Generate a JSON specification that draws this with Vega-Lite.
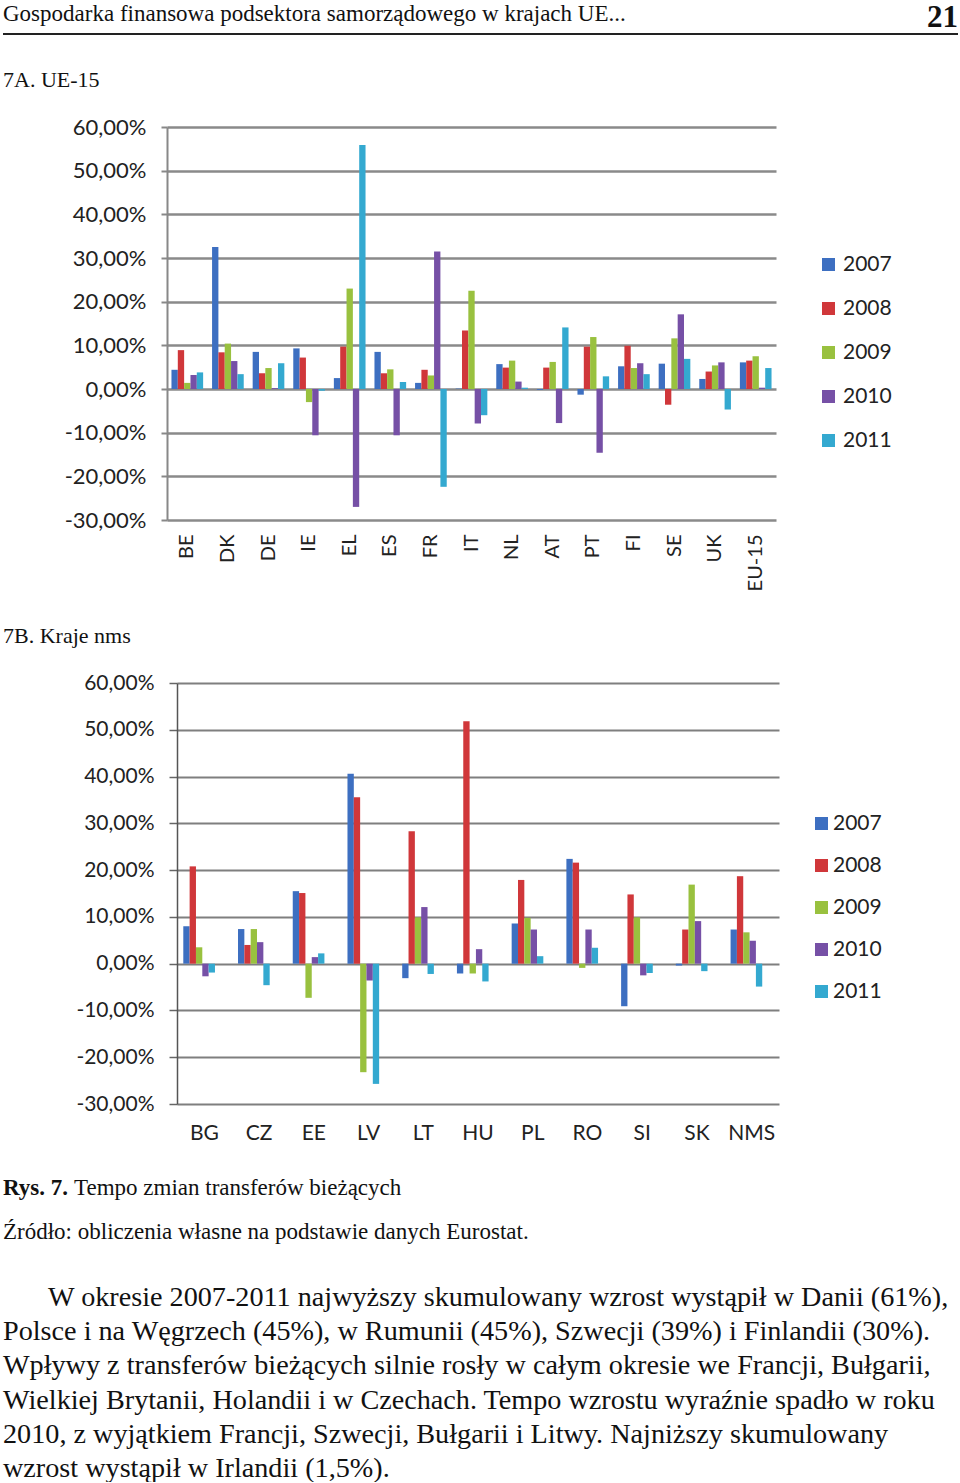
{
  "$schema": "https://vega.github.io/schema/vega-lite/v6.json",
  "background": "white",
  "padding": {"left": 2, "top": 2, "right": 0, "bottom": 0},
  "columns": 1,
  "spacing": 34,
  "resolve": {"scale": {"color": "independent"}, "legend": {"color": "independent"}},
  "config": {
    "view": {"stroke": null},
    "axis": {"labelFont": "Lato", "labelColor": "#222"},
    "legend": {"labelFont": "Lato", "labelColor": "#222", "labelFontSize": 21, "symbolType": "square", "symbolSize": 169, "symbolStrokeWidth": 0}
  },
  "datasets": {
    "ue15": [
      {"country": "BE", "year": "2007", "value": 4.4}, {"country": "BE", "year": "2008", "value": 8.9}, {"country": "BE", "year": "2009", "value": 1.4}, {"country": "BE", "year": "2010", "value": 3.2}, {"country": "BE", "year": "2011", "value": 3.8},
      {"country": "DK", "year": "2007", "value": 32.5}, {"country": "DK", "year": "2008", "value": 8.4}, {"country": "DK", "year": "2009", "value": 10.4}, {"country": "DK", "year": "2010", "value": 6.4}, {"country": "DK", "year": "2011", "value": 3.4},
      {"country": "DE", "year": "2007", "value": 8.5}, {"country": "DE", "year": "2008", "value": 3.6}, {"country": "DE", "year": "2009", "value": 4.8}, {"country": "DE", "year": "2010", "value": 0.2}, {"country": "DE", "year": "2011", "value": 5.9},
      {"country": "IE", "year": "2007", "value": 9.3}, {"country": "IE", "year": "2008", "value": 7.2}, {"country": "IE", "year": "2009", "value": -3.0}, {"country": "IE", "year": "2010", "value": -10.6}, {"country": "IE", "year": "2011", "value": -0.4},
      {"country": "EL", "year": "2007", "value": 2.5}, {"country": "EL", "year": "2008", "value": 9.7}, {"country": "EL", "year": "2009", "value": 23.0}, {"country": "EL", "year": "2010", "value": -27.0}, {"country": "EL", "year": "2011", "value": 55.9},
      {"country": "ES", "year": "2007", "value": 8.5}, {"country": "ES", "year": "2008", "value": 3.6}, {"country": "ES", "year": "2009", "value": 4.5}, {"country": "ES", "year": "2010", "value": -10.6}, {"country": "ES", "year": "2011", "value": 1.6},
      {"country": "FR", "year": "2007", "value": 1.4}, {"country": "FR", "year": "2008", "value": 4.4}, {"country": "FR", "year": "2009", "value": 3.1}, {"country": "FR", "year": "2010", "value": 31.5}, {"country": "FR", "year": "2011", "value": -22.4},
      {"country": "IT", "year": "2007", "value": 0.1}, {"country": "IT", "year": "2008", "value": 13.4}, {"country": "IT", "year": "2009", "value": 22.5}, {"country": "IT", "year": "2010", "value": -7.9}, {"country": "IT", "year": "2011", "value": -6.0},
      {"country": "NL", "year": "2007", "value": 5.7}, {"country": "NL", "year": "2008", "value": 4.9}, {"country": "NL", "year": "2009", "value": 6.5}, {"country": "NL", "year": "2010", "value": 1.7}, {"country": "NL", "year": "2011", "value": 0.3},
      {"country": "AT", "year": "2007", "value": -0.2}, {"country": "AT", "year": "2008", "value": 4.9}, {"country": "AT", "year": "2009", "value": 6.2}, {"country": "AT", "year": "2010", "value": -7.8}, {"country": "AT", "year": "2011", "value": 14.1},
      {"country": "PT", "year": "2007", "value": -1.3}, {"country": "PT", "year": "2008", "value": 9.7}, {"country": "PT", "year": "2009", "value": 11.9}, {"country": "PT", "year": "2010", "value": -14.6}, {"country": "PT", "year": "2011", "value": 2.9},
      {"country": "FI", "year": "2007", "value": 5.2}, {"country": "FI", "year": "2008", "value": 9.9}, {"country": "FI", "year": "2009", "value": 4.8}, {"country": "FI", "year": "2010", "value": 5.9}, {"country": "FI", "year": "2011", "value": 3.4},
      {"country": "SE", "year": "2007", "value": 5.8}, {"country": "SE", "year": "2008", "value": -3.6}, {"country": "SE", "year": "2009", "value": 11.6}, {"country": "SE", "year": "2010", "value": 17.1}, {"country": "SE", "year": "2011", "value": 6.9},
      {"country": "UK", "year": "2007", "value": 2.3}, {"country": "UK", "year": "2008", "value": 4.0}, {"country": "UK", "year": "2009", "value": 5.4}, {"country": "UK", "year": "2010", "value": 6.1}, {"country": "UK", "year": "2011", "value": -4.7},
      {"country": "EU-15", "year": "2007", "value": 6.1}, {"country": "EU-15", "year": "2008", "value": 6.5}, {"country": "EU-15", "year": "2009", "value": 7.5}, {"country": "EU-15", "year": "2010", "value": 0.3}, {"country": "EU-15", "year": "2011", "value": 4.8}
    ],
    "nms": [
      {"country": "BG", "year": "2007", "value": 8.0}, {"country": "BG", "year": "2008", "value": 20.8}, {"country": "BG", "year": "2009", "value": 3.5}, {"country": "BG", "year": "2010", "value": -2.7}, {"country": "BG", "year": "2011", "value": -1.9},
      {"country": "CZ", "year": "2007", "value": 7.4}, {"country": "CZ", "year": "2008", "value": 4.0}, {"country": "CZ", "year": "2009", "value": 7.4}, {"country": "CZ", "year": "2010", "value": 4.6}, {"country": "CZ", "year": "2011", "value": -4.6},
      {"country": "EE", "year": "2007", "value": 15.5}, {"country": "EE", "year": "2008", "value": 15.1}, {"country": "EE", "year": "2009", "value": -7.3}, {"country": "EE", "year": "2010", "value": 1.4}, {"country": "EE", "year": "2011", "value": 2.2},
      {"country": "LV", "year": "2007", "value": 40.6}, {"country": "LV", "year": "2008", "value": 35.6}, {"country": "LV", "year": "2009", "value": -23.2}, {"country": "LV", "year": "2010", "value": -3.6}, {"country": "LV", "year": "2011", "value": -25.7},
      {"country": "LT", "year": "2007", "value": -3.1}, {"country": "LT", "year": "2008", "value": 28.3}, {"country": "LT", "year": "2009", "value": 9.9}, {"country": "LT", "year": "2010", "value": 12.1}, {"country": "LT", "year": "2011", "value": -2.2},
      {"country": "HU", "year": "2007", "value": -2.1}, {"country": "HU", "year": "2008", "value": 51.8}, {"country": "HU", "year": "2009", "value": -2.1}, {"country": "HU", "year": "2010", "value": 3.1}, {"country": "HU", "year": "2011", "value": -3.8},
      {"country": "PL", "year": "2007", "value": 8.6}, {"country": "PL", "year": "2008", "value": 17.9}, {"country": "PL", "year": "2009", "value": 9.8}, {"country": "PL", "year": "2010", "value": 7.3}, {"country": "PL", "year": "2011", "value": 1.6},
      {"country": "RO", "year": "2007", "value": 22.4}, {"country": "RO", "year": "2008", "value": 21.6}, {"country": "RO", "year": "2009", "value": -0.9}, {"country": "RO", "year": "2010", "value": 7.3}, {"country": "RO", "year": "2011", "value": 3.4},
      {"country": "SI", "year": "2007", "value": -9.1}, {"country": "SI", "year": "2008", "value": 14.8}, {"country": "SI", "year": "2009", "value": 9.9}, {"country": "SI", "year": "2010", "value": -2.5}, {"country": "SI", "year": "2011", "value": -2.0},
      {"country": "SK", "year": "2007", "value": -0.4}, {"country": "SK", "year": "2008", "value": 7.3}, {"country": "SK", "year": "2009", "value": 16.9}, {"country": "SK", "year": "2010", "value": 9.1}, {"country": "SK", "year": "2011", "value": -1.6},
      {"country": "NMS", "year": "2007", "value": 7.3}, {"country": "NMS", "year": "2008", "value": 18.7}, {"country": "NMS", "year": "2009", "value": 6.7}, {"country": "NMS", "year": "2010", "value": 4.9}, {"country": "NMS", "year": "2011", "value": -4.9}
    ],
    "header": [
      {"left": "Gospodarka finansowa podsektora samorządowego w krajach UE...", "right": "21"}
    ],
    "caption": [
      {"bold": "Rys. 7.", "cap": "Tempo zmian transferów bieżących", "src": "Źródło: obliczenia własne na podstawie danych Eurostat."}
    ],
    "para": [
      {"n": 1, "t": "W okresie 2007-2011 najwyższy skumulowany wzrost wystąpił w Danii (61%),"},
      {"n": 2, "t": "Polsce i na Węgrzech (45%), w Rumunii (45%), Szwecji (39%) i Finlandii (30%)."},
      {"n": 3, "t": "Wpływy z transferów bieżących silnie rosły w całym okresie we Francji, Bułgarii,"},
      {"n": 4, "t": "Wielkiej Brytanii, Holandii i w Czechach. Tempo wzrostu wyraźnie spadło w roku"},
      {"n": 5, "t": "2010, z wyjątkiem Francji, Szwecji, Bułgarii i Litwy. Najniższy skumulowany"},
      {"n": 6, "t": "wzrost wystąpił w Irlandii (1,5%)."}
    ]
  },
  "concat": [
    {
      "width": 955,
      "height": 31,
      "data": {"name": "header"},
      "layer": [
        {"mark": {"type": "text", "align": "left", "baseline": "top", "font": "Liberation Serif", "fontSize": 23, "color": "#111"},
         "encoding": {"text": {"field": "left"}, "x": {"value": 0}, "y": {"value": 0}}},
        {"mark": {"type": "text", "align": "right", "baseline": "top", "font": "Liberation Serif", "fontSize": 31, "fontWeight": "bold", "color": "#111"},
         "encoding": {"text": {"field": "right"}, "x": {"value": "width"}, "y": {"value": 0}}},
        {"mark": {"type": "rule", "strokeWidth": 2, "color": "#222"},
         "encoding": {"y": {"value": "height"}}}
      ]
    },
    {
      "title": {"text": "7A. UE-15", "anchor": "start", "frame": "group", "font": "Liberation Serif", "fontSize": 22, "fontWeight": "normal", "color": "#111", "offset": 24},
      "width": 775,
      "height": 393,
      "data": {"name": "ue15"},
      "mark": {"type": "bar"},
      "encoding": {
        "x": {"field": "country", "type": "nominal",
              "sort": ["BE", "DK", "DE", "IE", "EL", "ES", "FR", "IT", "NL", "AT", "PT", "FI", "SE", "UK", "EU-15"],
              "scale": {"range": [164, 773], "paddingInner": 0.22, "paddingOuter": 0.11},
              "axis": {"title": null, "labelAngle": 270, "labelFontSize": 20, "labelPadding": 14, "ticks": false, "domain": false, "grid": false}},
        "xOffset": {"field": "year", "type": "nominal"},
        "y": {"field": "value", "type": "quantitative",
              "scale": {"domain": [-30, 60], "nice": false, "zero": false},
              "axis": {"title": null, "offset": -164, "values": [-30, -20, -10, 0, 10, 20, 30, 40, 50, 60],
                       "labelExpr": "replace(replace(format(datum.value, '.2f'), '.', ','), '\u2212', '-') + '%'",
                       "labelFontSize": 22, "labelPadding": 15, "tickSize": 6, "tickColor": "#888", "tickWidth": 2,
                       "domainColor": "#888", "domainWidth": 2, "gridColor": "#8a8a8a", "gridWidth": 2.5}},
        "color": {"field": "year", "type": "nominal",
                  "scale": {"domain": ["2007", "2008", "2009", "2010", "2011"], "range": ["#3d6fc1", "#d0373a", "#99c13f", "#7650a6", "#34a9d0"]},
                  "legend": {"title": null, "orient": "none", "legendX": 815, "legendY": 127, "rowPadding": 22, "labelOffset": 4}}
      }
    },
    {
      "title": {"text": "7B. Kraje nms", "anchor": "start", "frame": "group", "font": "Liberation Serif", "fontSize": 22, "fontWeight": "normal", "color": "#111", "offset": 24},
      "width": 778,
      "height": 421,
      "data": {"name": "nms"},
      "mark": {"type": "bar"},
      "encoding": {
        "x": {"field": "country", "type": "nominal",
              "sort": ["BG", "CZ", "EE", "LV", "LT", "HU", "PL", "RO", "SI", "SK", "NMS"],
              "scale": {"range": [174, 776], "paddingInner": 0.23, "paddingOuter": 0.115},
              "axis": {"title": null, "labelAngle": 0, "labelFontSize": 21, "labelPadding": 18, "ticks": false, "domain": false, "grid": false}},
        "xOffset": {"field": "year", "type": "nominal"},
        "y": {"field": "value", "type": "quantitative",
              "scale": {"domain": [-30, 60], "nice": false, "zero": false},
              "axis": {"title": null, "offset": -174, "values": [-30, -20, -10, 0, 10, 20, 30, 40, 50, 60],
                       "labelExpr": "replace(replace(format(datum.value, '.2f'), '.', ','), '\u2212', '-') + '%'",
                       "labelFontSize": 21, "labelPadding": 15, "tickSize": 8, "tickColor": "#666", "tickWidth": 1.5,
                       "domainColor": "#555", "domainWidth": 1.5, "gridColor": "#7f7f7f", "gridWidth": 2}},
        "color": {"field": "year", "type": "nominal",
                  "scale": {"domain": ["2007", "2008", "2009", "2010", "2011"], "range": ["#3d6fc1", "#d0373a", "#99c13f", "#7650a6", "#34a9d0"]},
                  "legend": {"title": null, "orient": "none", "legendX": 808, "legendY": 130, "rowPadding": 20, "labelOffset": 1}}
      }
    },
    {
      "width": 955,
      "height": 44,
      "data": {"name": "caption"},
      "layer": [
        {"mark": {"type": "text", "align": "left", "baseline": "alphabetic", "font": "Liberation Serif", "fontSize": 23, "fontWeight": "bold", "color": "#111"},
         "encoding": {"text": {"field": "bold"}, "x": {"value": 0}, "y": {"value": 0}}},
        {"mark": {"type": "text", "align": "left", "baseline": "alphabetic", "font": "Liberation Serif", "fontSize": 23, "color": "#111", "dx": 71},
         "encoding": {"text": {"field": "cap"}, "x": {"value": 0}, "y": {"value": 0}}},
        {"mark": {"type": "text", "align": "left", "baseline": "alphabetic", "font": "Liberation Serif", "fontSize": 23, "color": "#111"},
         "encoding": {"text": {"field": "src"}, "x": {"value": 0}, "y": {"value": "height"}}}
      ]
    },
    {
      "width": 955,
      "height": 183,
      "data": {"name": "para"},
      "encoding": {
        "text": {"field": "t"},
        "x": {"value": 0},
        "y": {"field": "n", "type": "ordinal", "scale": {"type": "point", "padding": 0.19}, "axis": null}
      },
      "layer": [
        {"transform": [{"filter": "datum.n > 1"}],
         "mark": {"type": "text", "align": "left", "baseline": "top", "font": "Liberation Serif", "fontSize": 28.2, "color": "#111"}},
        {"transform": [{"filter": "datum.n == 1"}],
         "mark": {"type": "text", "align": "left", "baseline": "top", "font": "Liberation Serif", "fontSize": 28.2, "color": "#111", "dx": 45}}
      ]
    }
  ]
}
